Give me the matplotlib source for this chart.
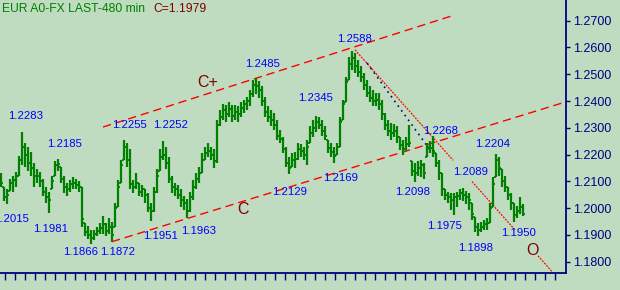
import matplotlib
matplotlib.use('Agg')
import matplotlib.pyplot as plt
import numpy as np

# 480-min bars (high / low / close)
highs = [1.2130, 1.2080, 1.2070, 1.2110, 1.2120, 1.2135, 1.2195, 1.2283, 1.2245, 1.2230,
         1.2210, 1.2170, 1.2145, 1.2135, 1.2110, 1.2080, 1.2060, 1.2120, 1.2175, 1.2185,
         1.2155, 1.2120, 1.2095, 1.2105, 1.2115, 1.2110, 1.2100, 1.2080, 1.1945, 1.1935,
         1.1920, 1.1920, 1.1930, 1.1945, 1.1970, 1.1945, 1.1965,
         1.1950, 1.2020, 1.2105, 1.2180, 1.2255, 1.2245, 1.2220, 1.2105, 1.2130, 1.2095,
         1.2085, 1.2070, 1.2055, 1.2020, 1.2080, 1.2145, 1.2220, 1.2252, 1.2230, 1.2190,
         1.2120, 1.2095, 1.2085, 1.2070, 1.2045, 1.2035, 1.2060, 1.2105, 1.2130, 1.2155,
         1.2205, 1.2230, 1.2245,
         1.2230, 1.2220, 1.2330, 1.2367, 1.2390, 1.2385, 1.2395, 1.2385, 1.2385, 1.2380,
         1.2395, 1.2405, 1.2415, 1.2440, 1.2478, 1.2485, 1.2475, 1.2455, 1.2415, 1.2380,
         1.2367, 1.2355, 1.2330, 1.2292, 1.2265, 1.2230, 1.2190, 1.2205, 1.2210, 1.2245,
         1.2240, 1.2230, 1.2255, 1.2305,
         1.2330, 1.2345, 1.2340, 1.2330, 1.2305, 1.2255, 1.2245, 1.2230, 1.2245, 1.2340,
         1.2405, 1.2490, 1.2565, 1.2588, 1.2580, 1.2555, 1.2530, 1.2505, 1.2480, 1.2455,
         1.2442, 1.2430, 1.2430, 1.2405, 1.2355, 1.2330, 1.2318, 1.2315, 1.2305, 1.2265,
         1.2255, 1.2265, 1.2311, 1.2175, 1.2170, 1.2175, 1.2180, 1.2170,
         1.2245, 1.2250, 1.2268, 1.2205, 1.2180, 1.2130, 1.2070, 1.2060, 1.2055, 1.2055,
         1.2060, 1.2070, 1.2075, 1.2065, 1.2055, 1.2020, 1.1968, 1.1945, 1.1950, 1.1955,
         1.1965, 1.2020, 1.2115, 1.2204, 1.2190, 1.2145, 1.2120, 1.2080, 1.2055, 1.2020,
         1.2010, 1.2040, 1.2015]
lows = [1.2080, 1.2025, 1.2015, 1.2065, 1.2060, 1.2080, 1.2120, 1.2160, 1.2155, 1.2140,
        1.2120, 1.2080, 1.2095, 1.2080, 1.2045, 1.2020, 1.1981, 1.2070, 1.2120, 1.2140,
        1.2095, 1.2055, 1.2045, 1.2060, 1.2070, 1.2070, 1.2060, 1.1930, 1.1895, 1.1885,
        1.1866, 1.1880, 1.1895, 1.1905, 1.1905, 1.1895, 1.1905,
        1.1872, 1.1930, 1.2005, 1.2095, 1.2180, 1.2155, 1.2070, 1.2055, 1.2070, 1.2045,
        1.2040, 1.2020, 1.1985, 1.1951, 1.1985, 1.2055, 1.2140, 1.2180, 1.2145, 1.2095,
        1.2055, 1.2045, 1.2035, 1.2005, 1.1995, 1.1963, 1.1985, 1.2030, 1.2070, 1.2095,
        1.2130, 1.2180, 1.2190,
        1.2180, 1.2150, 1.2170, 1.2305, 1.2330, 1.2320, 1.2340, 1.2320, 1.2330, 1.2320,
        1.2340, 1.2355, 1.2365, 1.2380, 1.2415, 1.2425, 1.2410, 1.2380, 1.2340, 1.2320,
        1.2305, 1.2292, 1.2255, 1.2245, 1.2205, 1.2155, 1.2129, 1.2155, 1.2150, 1.2180,
        1.2190, 1.2180, 1.2160, 1.2245,
        1.2265, 1.2285, 1.2295, 1.2270, 1.2255, 1.2205, 1.2190, 1.2169, 1.2200, 1.2230,
        1.2330, 1.2395, 1.2480, 1.2515, 1.2505, 1.2490, 1.2470, 1.2442, 1.2415, 1.2395,
        1.2380, 1.2380, 1.2367, 1.2330, 1.2292, 1.2270, 1.2255, 1.2265, 1.2245, 1.2218,
        1.2200, 1.2215, 1.2230, 1.2120, 1.2098, 1.2120, 1.2115, 1.2110,
        1.2190, 1.2205, 1.2190, 1.2155, 1.2105, 1.2045, 1.2030, 1.2020, 1.1994, 1.1975,
        1.2005, 1.2030, 1.2025, 1.2015, 1.1995, 1.1957, 1.1912, 1.1898, 1.1910, 1.1920,
        1.1920, 1.1945, 1.2005, 1.2115, 1.2120, 1.2080, 1.2060, 1.2030, 1.1995, 1.1950,
        1.1965, 1.1980, 1.1970]
closes = [1.2095, 1.2040, 1.2050, 1.2095, 1.2105, 1.2120, 1.2180, 1.2230, 1.2200, 1.2170,
          1.2150, 1.2120, 1.2120, 1.2100, 1.2060, 1.2040, 1.2030, 1.2100, 1.2160, 1.2165,
          1.2110, 1.2080, 1.2070, 1.2090, 1.2095, 1.2085, 1.2080, 1.1960, 1.1910, 1.1900,
          1.1890, 1.1905, 1.1915, 1.1925, 1.1940, 1.1915, 1.1930,
          1.1900, 1.2000, 1.2080, 1.2160, 1.2230, 1.2180, 1.2090, 1.2080, 1.2095, 1.2060,
          1.2070, 1.2050, 1.2000, 1.1990, 1.2060, 1.2120, 1.2190, 1.2200, 1.2170, 1.2110,
          1.2080, 1.2070, 1.2050, 1.2030, 1.2020, 1.1990, 1.2040, 1.2080, 1.2110, 1.2130,
          1.2180, 1.2205, 1.2215,
          1.2200, 1.2175, 1.2310, 1.2340, 1.2365, 1.2350, 1.2370, 1.2345, 1.2360, 1.2350,
          1.2375, 1.2390, 1.2400, 1.2425, 1.2460, 1.2455, 1.2440, 1.2400, 1.2360, 1.2340,
          1.2330, 1.2310, 1.2270, 1.2260, 1.2220, 1.2170, 1.2150, 1.2180, 1.2185, 1.2220,
          1.2215, 1.2200, 1.2230, 1.2280,
          1.2300, 1.2320, 1.2310, 1.2290, 1.2270, 1.2225, 1.2210, 1.2195, 1.2230, 1.2320,
          1.2390, 1.2470, 1.2540, 1.2560, 1.2530, 1.2510, 1.2490, 1.2460, 1.2430, 1.2410,
          1.2400, 1.2405, 1.2390, 1.2350, 1.2310, 1.2290, 1.2280, 1.2290, 1.2265, 1.2235,
          1.2220, 1.2240, 1.2245, 1.2140, 1.2130, 1.2150, 1.2160, 1.2130,
          1.2230, 1.2225, 1.2215, 1.2170, 1.2130, 1.2070, 1.2050, 1.2040, 1.2030, 1.2040,
          1.2045, 1.2055, 1.2050, 1.2040, 1.2030, 1.1980, 1.1930, 1.1920, 1.1930, 1.1940,
          1.1945, 1.2000, 1.2090, 1.2180, 1.2150, 1.2100, 1.2080, 1.2050, 1.2020, 1.1975,
          1.1990, 1.2005, 1.1979]

price_ticks = [1.18, 1.19, 1.20, 1.21, 1.22, 1.23, 1.24, 1.25, 1.26, 1.27]

# swing labels: text, bar, price
swing_labels = ['1.2283', '1.2185', '1.1981', '1.1866', '1.1872', '1.2255', '1.2252',
                '1.1951', '1.1963', '1.2485', '1.2129', '1.2345', '1.2588', '1.2169',
                '1.2098', '1.2268', '1.2204', '1.2089', '1.1975', '1.1898', '1.1950']
swing_x = [2.3, 15.3, 10.7, 20.7, 33.0, 37.0, 50.7, 47.3, 60.0, 81.3, 90.3, 99.0,
           112.0, 107.3, 131.3, 140.7, 158.0, 150.7, 142.0, 152.3, 166.7]
swing_y = [1.2345, 1.2240, 1.1923, 1.1837, 1.1837, 1.2311, 1.2311, 1.1897, 1.1916,
           1.2538, 1.2061, 1.2412, 1.2632, 1.2113, 1.2061, 1.2289, 1.2240, 1.2136,
           1.1934, 1.1852, 1.1908]

bg = '#C0DCC0'
green = '#008000'
navy = '#000080'
dred = '#800000'
plt.rcParams['font.family'] = ['Liberation Sans', 'DejaVu Sans']

fig = plt.figure(figsize=(6.2, 2.9), dpi=100, facecolor=bg)
ax = fig.add_axes([0, 17 / 290, 566 / 620, 273 / 290])
ax.set_facecolor(bg)

x = np.arange(len(closes))
hi = np.array(highs)
lo = np.array(lows)
cl = np.array(closes)
op = np.clip(np.r_[cl[0], cl[:-1]], lo, hi)

ax.vlines(x, lo, hi, color=green, lw=1.6, zorder=3)
ax.hlines(op, x - 0.6, x, color=green, lw=1.3, zorder=3)
ax.hlines(cl, x, x + 0.6, color=green, lw=1.3, zorder=3)


def trend(x0, p0, x1, p1, xa, xb):
    xs = np.array([xa, xb])
    return xs, p0 + (p1 - p0) * (xs - x0) / (x1 - x0)


# channel lines
xs, ps = trend(34, 1.2303, 150.3, 1.2718, 34, 150.3)
ax.plot(xs, ps, color='#FF0000', lw=1.0, ls=(0, (6, 3.5)), zorder=2)
xs, ps = trend(37, 1.1875, 188.3, 1.2397, 37, 188.3)
ax.plot(xs, ps, color='#FF0000', lw=1.0, ls=(0, (6, 3.5)), zorder=2)
# falling line from the top
for a, b in [(118, 150.7), (157, 171.3), (179, 184)]:
    xs, ps = trend(118, 1.2591, 184, 1.1759, a, b)
    ax.plot(xs, ps, color='#FF0000', lw=0.9, ls=(0, (1.5, 1)), zorder=2)
xs, ps = trend(122, 1.2542, 143, 1.2218, 122, 143)
ax.plot(xs, ps, color=navy, lw=1.2, ls=(0, (1, 2.5)), zorder=2)

for t, tx, ty in zip(swing_labels, swing_x, swing_y):
    ax.text(tx, ty, t, color='#0000FF', fontsize=8.2, ha='left', va='center', zorder=4)
# cut by the left edge, as in the original
ax.text(9.2, 1.1960, '1.2015', color='#0000FF', fontsize=8.2, ha='right', va='center')

ax.text(65.3, 1.2468, 'C+', color=dred, fontsize=11.5, ha='left', va='center')
ax.text(78.7, 1.1994, 'C', color=dred, fontsize=11.5, ha='left', va='center')
ax.text(175.0, 1.1841, 'O', color=dred, fontsize=11.5, ha='left', va='center')

ax.set_xlim(-1 / 3, 565 / 3)
ax.set_ylim(1.1758, 1.27772)

ax.yaxis.tick_right()
ax.set_yticks(price_ticks)
ax.set_yticklabels(['%.4f' % p for p in price_ticks])
ax.tick_params(axis='y', direction='out', length=3, width=1, colors=navy,
               labelsize=9, pad=2)
ax.set_xticks(np.arange(4 / 3, 188, 10 / 3))
ax.set_xticklabels([])
ax.tick_params(axis='x', direction='out', length=5, width=1, colors=navy)

for s in ['left', 'top']:
    ax.spines[s].set_visible(False)
for s in ['right', 'bottom']:
    ax.spines[s].set_color(navy)
    ax.spines[s].set_linewidth(1.3)

fig.text(2 / 620, 1 - 9 / 290, 'EUR A0-FX LAST-480 min', color=green, fontsize=8.7,
         ha='left', va='center')
fig.text(153 / 620, 1 - 9 / 290, 'C=1.1979', color=dred, fontsize=8.7,
         ha='left', va='center')

fig.savefig('out.png', dpi=100, facecolor=bg)
